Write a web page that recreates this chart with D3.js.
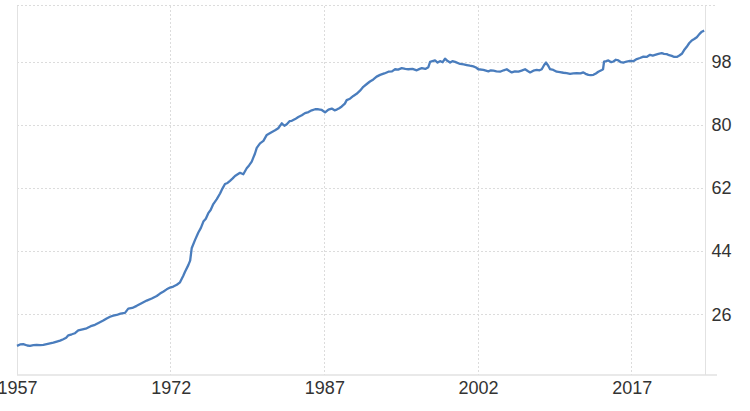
<!DOCTYPE html>
<html>
<head>
<meta charset="utf-8">
<script src="https://cdn.jsdelivr.net/npm/d3@7"></script>
<style>
  html, body { margin: 0; padding: 0; background: #fff; }
  svg { display: block; }
  text { font-family: "Liberation Sans", Arial, sans-serif; }
</style>
</head>
<body>
<svg id="chart" width="750" height="411"></svg>
<script>
// ---- data ----
const years = [
  1957.0,1957.3,1957.61,1958.0,1958.27,1958.6,1958.92,1959.25,1959.57,1959.9,
  1960.22,1960.55,1960.88,1961.2,1961.52,1961.8,1962.01,1962.35,1962.66,1962.98,
  1963.4,1963.8,1964.2,1964.61,1965.0,1965.42,1965.75,1966.08,1966.4,1966.73,
  1967.1,1967.54,1967.86,1968.25,1968.68,1969.2,1969.66,1970.15,1970.64,1970.96,
  1971.3,1971.61,1971.94,1972.26,1972.6,1972.91,1973.23,1973.4,1973.72,1973.9,
  1974.05,1974.38,1974.7,1974.95,1975.19,1975.43,1975.67,1975.9,1976.16,1976.5,
  1976.82,1977.05,1977.3,1977.55,1977.79,1978.05,1978.28,1978.5,1978.77,1979.09,
  1979.42,1979.65,1979.91,1980.23,1980.4,1980.72,1981.05,1981.38,1981.8,1982.19,
  1982.5,1982.84,1983.1,1983.33,1983.6,1983.82,1984.15,1984.46,1984.8,1985.11,
  1985.45,1985.77,1986.1,1986.41,1986.75,1987.07,1987.4,1987.72,1988.0,1988.21,
  1988.45,1988.7,1989.0,1989.18,1989.5,1989.83,1990.15,1990.48,1990.8,1991.14,
  1991.45,1991.78,1992.1,1992.44,1992.85,1993.25,1993.6,1993.9,1994.2,1994.55,
  1994.9,1995.2,1995.6,1996.02,1996.3,1996.51,1996.85,1997.15,1997.32,1997.55,
  1997.8,1998.05,1998.29,1998.55,1998.78,1999.0,1999.27,1999.5,1999.76,2000.25,
  2000.6,2000.9,2001.2,2001.54,2001.8,2002.03,2002.52,2003.01,2003.25,2003.5,
  2003.8,2004.15,2004.5,2004.8,2005.05,2005.29,2005.6,2005.94,2006.25,2006.59,
  2006.85,2007.08,2007.4,2007.73,2008.0,2008.22,2008.45,2008.64,2008.85,2009.03,
  2009.35,2009.68,2010.0,2010.33,2010.65,2010.98,2011.3,2011.64,2012.0,2012.28,
  2012.5,2012.77,2013.0,2013.26,2013.5,2013.74,2014.08,2014.2,2014.3,2014.5,
  2014.72,2015.0,2015.21,2015.45,2015.7,2015.95,2016.18,2016.5,2016.84,2017.15,
  2017.49,2017.8,2018.14,2018.45,2018.79,2019.05,2019.28,2019.6,2019.93,2020.15,
  2020.42,2020.65,2020.91,2021.15,2021.4,2021.65,2021.89,2022.1,2022.37,2022.6,
  2022.86,2023.1,2023.35,2023.6,2023.84,2024.07
];
const values = [
  17.2,17.6,17.7,17.3,17.2,17.4,17.5,17.4,17.5,17.7,
  17.9,18.1,18.4,18.7,19.1,19.5,20.2,20.5,20.8,21.6,
  21.9,22.2,22.8,23.2,23.8,24.4,25.0,25.5,25.8,26.0,
  26.4,26.6,27.8,28.0,28.6,29.4,30.1,30.7,31.4,32.1,
  32.7,33.3,33.8,34.1,34.6,35.3,37.2,38.3,40.2,41.5,
  45.0,47.4,49.5,50.8,52.6,53.4,55.0,55.9,57.6,59.0,
  60.6,62.0,63.3,63.6,64.2,64.9,65.6,66.0,66.5,66.1,
  67.8,68.6,69.7,72.0,73.6,74.9,75.6,77.3,78.0,78.6,
  79.2,80.6,79.9,80.3,81.2,81.3,81.8,82.4,82.9,83.5,
  83.8,84.3,84.6,84.6,84.4,83.7,84.5,84.8,84.3,84.5,
  84.9,85.4,86.2,87.2,87.6,88.4,89.0,89.9,91.0,91.8,
  92.5,93.1,93.9,94.4,94.8,95.3,95.4,96.0,95.9,96.3,
  96.1,96.0,96.1,95.7,96.1,96.3,96.1,96.6,98.1,98.3,
  98.5,97.9,98.3,98.0,99.0,98.4,97.9,98.3,98.1,97.5,
  97.4,97.2,97.0,96.8,96.5,96.0,95.8,95.4,95.7,95.6,
  95.4,95.3,95.7,96.0,95.5,95.1,95.4,95.3,95.6,96.0,
  95.5,95.1,95.6,95.8,95.7,96.0,97.2,97.9,97.0,96.0,
  95.8,95.3,95.2,95.0,94.9,94.7,94.8,94.9,94.8,95.1,
  94.7,94.4,94.3,94.4,94.8,95.3,95.8,96.0,98.2,98.3,
  98.5,98.0,98.2,98.7,98.5,98.0,97.9,98.2,98.4,98.3,
  98.9,99.2,99.6,99.5,100.1,99.9,100.1,100.4,100.6,100.4,
  100.3,100.0,99.8,99.5,99.5,99.9,100.4,101.4,102.4,103.4,
  104.2,104.6,105.1,106.0,106.7,107.0
];
const xTickYears = [1957, 1972, 1987, 2002, 2017];
const yTickValues = [26, 44, 62, 80, 98];

// ---- layout ----
const plot = { left: 17, right: 705.5, top: 5.7, bottom: 375, outer: 717 };
const svg = d3.select("#chart");

const x = d3.scaleLinear().domain([1957, 2024.2]).range([plot.left, plot.right]);
const y = d3.scaleLinear().domain([8.9, 114.1]).range([plot.bottom, plot.top]);

const gridColor = "#dcdcdc";

// horizontal grid
svg.append("g").selectAll("line").data(yTickValues).join("line")
  .attr("x1", plot.left).attr("x2", plot.right)
  .attr("y1", d => y(d)).attr("y2", d => y(d))
  .attr("stroke", gridColor).attr("stroke-width", 1)
  .attr("stroke-dasharray", "2,2").attr("shape-rendering", "crispEdges");

// top border (dotted)
svg.append("line")
  .attr("x1", plot.left).attr("x2", plot.outer)
  .attr("y1", plot.top).attr("y2", plot.top)
  .attr("stroke", gridColor).attr("stroke-dasharray", "2,2")
  .attr("shape-rendering", "crispEdges");

// vertical grid
svg.append("g").selectAll("line").data(xTickYears.slice(1)).join("line")
  .attr("x1", d => x(d)).attr("x2", d => x(d))
  .attr("y1", plot.top).attr("y2", plot.bottom)
  .attr("stroke", gridColor).attr("stroke-width", 1)
  .attr("stroke-dasharray", "2,2").attr("shape-rendering", "crispEdges");

// solid frame lines
svg.append("line").attr("x1", plot.left).attr("x2", plot.left)
  .attr("y1", plot.top).attr("y2", plot.bottom)
  .attr("stroke", "#e2e2e2").attr("shape-rendering", "crispEdges");
svg.append("line").attr("x1", plot.right).attr("x2", plot.right)
  .attr("y1", plot.top).attr("y2", plot.bottom)
  .attr("stroke", "#e2e2e2").attr("shape-rendering", "crispEdges");
svg.append("line").attr("x1", plot.left).attr("x2", plot.outer)
  .attr("y1", plot.bottom).attr("y2", plot.bottom)
  .attr("stroke", "#e2e2e2").attr("stroke-width", 1.5);

// axes (labels only)
const xAxis = d3.axisBottom(x).tickValues(xTickYears).tickFormat(d3.format("d")).tickSize(0).tickPadding(0);
const gx = svg.append("g").attr("transform", `translate(0,${plot.bottom})`).call(xAxis);
gx.select(".domain").remove();
gx.selectAll("text").attr("y", 18.5).attr("dy", 0)
  .attr("font-size", 18).attr("fill", "#333")
  .attr("font-family", "'Liberation Sans', Arial, sans-serif");

const yAxis = d3.axisRight(y).tickValues(yTickValues).tickFormat(d3.format("d")).tickSize(0).tickPadding(0);
const gy = svg.append("g").attr("transform", `translate(${plot.right + 6},0)`).call(yAxis);
gy.select(".domain").remove();
gy.selectAll("text").attr("x", 0).attr("dy", "0.28em")
  .attr("font-size", 18).attr("fill", "#333")
  .attr("font-family", "'Liberation Sans', Arial, sans-serif");

// line
const data = years.map((yr, i) => ({ x: yr, v: values[i] }));
const line = d3.line().x(d => x(d.x)).y(d => y(d.v)).curve(d3.curveLinear);
svg.append("path").datum(data)
  .attr("d", line)
  .attr("fill", "none")
  .attr("stroke", "#4a7dbd")
  .attr("stroke-width", 2.3)
  .attr("stroke-linejoin", "round");
</script>
</body>
</html>
